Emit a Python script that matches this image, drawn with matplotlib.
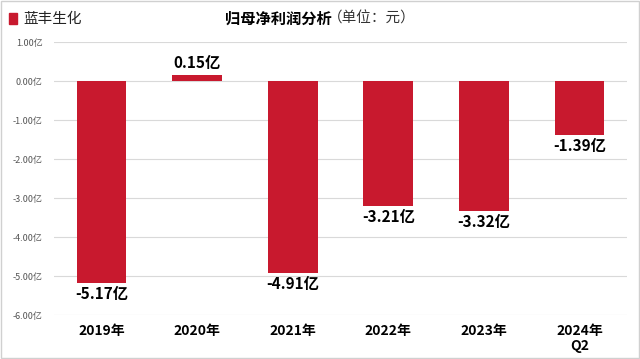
import matplotlib.pyplot as plt
import numpy as np

plt.rcParams['font.family'] = ['Noto Sans CJK SC', 'DejaVu Sans']

# data
years = ["2019年", "2020年", "2021年", "2022年", "2023年", "2024年\nQ2"]
profit = [-5.17, 0.15, -4.91, -3.21, -3.32, -1.39]   # 亿元
series_name = "蓝丰生化"
bar_color = "#C8192E"

fig = plt.figure(figsize=(6.4, 3.59), dpi=100)
ax = fig.add_axes([0.084, 0.122, 0.896, 0.761])

x = np.arange(len(years))
ax.bar(x, profit, width=0.52, color=bar_color, zorder=3)

# value labels
for xi, v in zip(x, profit):
    if v >= 0:
        ax.text(xi, v + 0.1, f"{v:.2f}亿", ha="center", va="bottom",
                fontsize=11, fontweight="bold", color="black")
    else:
        ax.text(xi, v - 0.08, f"{v:.2f}亿", ha="center", va="top",
                fontsize=11, fontweight="bold", color="black")

ax.set_ylim(-6, 1)
ax.set_xlim(-0.5, len(years) - 0.5)
yt = np.arange(-6, 1.5, 1)
ax.set_yticks(yt)
ax.set_yticklabels([f"{t:.2f}亿" for t in yt], fontsize=6.5, color="#555555")
ax.set_xticks(x)
ax.set_xticklabels(years, fontsize=10, fontweight="bold", linespacing=1.1)
ax.tick_params(axis="both", length=0)
ax.tick_params(axis="x", pad=6)
ax.tick_params(axis="y", pad=8)
ax.grid(axis="y", color="#D9D9D9", linewidth=0.8, zorder=0)
for s in ax.spines.values():
    s.set_visible(False)

# title and legend
fig.text(0.352, 0.948, "归母净利润分析", fontsize=11, fontweight="bold",
         ha="left", va="center")
fig.text(0.512, 0.948, "（单位：元）", fontsize=10.5, ha="left", va="center",
         color="#333333")
fig.patches.append(plt.Rectangle((0.014, 0.933), 0.013, 0.03,
                                 transform=fig.transFigure, color=bar_color))
fig.text(0.036, 0.948, series_name, fontsize=10.5, ha="left", va="center",
         color="#222222")

# light frame around the picture
fig.patches.append(plt.Rectangle((0.001, 0.002), 0.997, 0.995, fill=False,
                                 transform=fig.transFigure,
                                 edgecolor="#D0D0D0", linewidth=1))

fig.savefig("out.png", dpi=100)
